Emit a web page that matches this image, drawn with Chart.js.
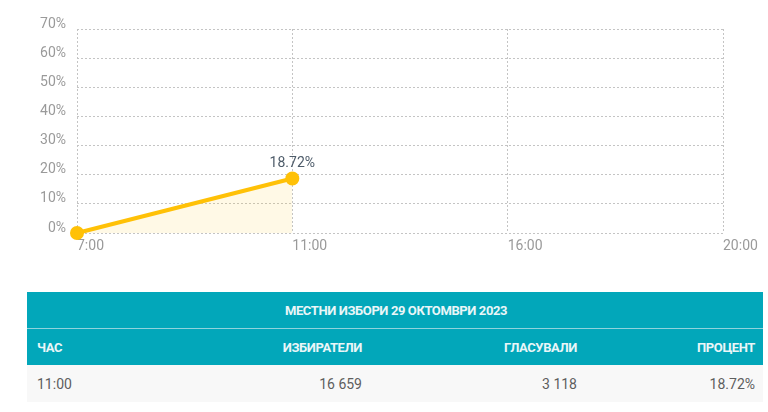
<!DOCTYPE html>
<html>
<head>
<meta charset="utf-8">
<script src="https://cdn.jsdelivr.net/npm/chart.js@4/dist/chart.umd.min.js"></script>
<style>
  html, body { margin: 0; padding: 0; background: #fff; }
  body { width: 768px; height: 412px; overflow: hidden; font-family: Roboto, sans-serif; }
  #chartBox { position: absolute; left: 0; top: 0; width: 768px; height: 265px; }
  table.turnout {
    position: absolute; left: 27px; top: 292px; width: 736px;
    border-collapse: collapse; table-layout: fixed;
  }
  .turnout th { background: #02a7ba; color: #eaf6f8; font-weight: 700; font-size: 13px; height: 36px; padding: 0 10px; letter-spacing: -0.4px; }
  .turnout tr.title th { text-align: center; border-bottom: 1px solid #8fd3dc; }
  .turnout tr.cols th { text-align: right; }
  .turnout tr.cols th:first-child { text-align: left; }
  .turnout td { background: #f8f8f8; color: #5e5e5e; font-size: 14px; height: 37px; padding: 0 10px; text-align: right; }
  .turnout td:first-child { text-align: left; }
  .turnout th:last-child, .turnout td:last-child { padding-right: 8px; }
</style>
</head>
<body>
<div id="chartBox"><canvas id="turnoutChart"></canvas></div>

<table class="turnout">
  <colgroup><col style="width:172px"><col style="width:173px"><col style="width:215px"><col style="width:176px"></colgroup>
  <tr class="title"><th colspan="4" id="tblTitle"></th></tr>
  <tr class="cols" id="tblHead"></tr>
  <tbody id="tblBody"></tbody>
</table>

<script>
// chart data
const hours = ["7:00", "11:00", "16:00", "20:00"];
const turnoutPct = [0, 18.72, null, null];
const yTicks = [0, 10, 20, 30, 40, 50, 60, 70];

// table data
const tableTitle = "МЕСТНИ ИЗБОРИ 29 ОКТОМВРИ 2023";
const tableCols = ["ЧАС", "ИЗБИРАТЕЛИ", "ГЛАСУВАЛИ", "ПРОЦЕНТ"];
const rowHours = ["11:00"];
const rowVoters = ["16 659"];
const rowVoted = ["3 118"];
const rowPct = ["18.72%"];

// ── table ──
document.getElementById("tblTitle").textContent = tableTitle;
document.getElementById("tblHead").innerHTML = tableCols.map(c => `<th>${c}</th>`).join("");
document.getElementById("tblBody").innerHTML = rowHours.map((h, i) =>
  `<tr><td>${h}</td><td>${rowVoters[i]}</td><td>${rowVoted[i]}</td><td>${rowPct[i]}</td></tr>`
).join("");

// ── value label above the last real point ──
const lastValueLabel = {
  id: "lastValueLabel",
  afterDatasetsDraw(chart) {
    const meta = chart.getDatasetMeta(0);
    const ctx = chart.ctx;
    ctx.save();
    ctx.font = "14px Roboto";
    ctx.fillStyle = "#4d5b69";
    ctx.textAlign = "center";
    ctx.textBaseline = "bottom";
    turnoutPct.forEach((v, i) => {
      if (v === null || v === 0) return;
      const pt = meta.data[i];
      ctx.fillText(v.toFixed(2) + "%", pt.x, pt.y - 8);
    });
    ctx.restore();
  }
};

// dotted grid (v4: border.dash styles the grid lines too)
const gridDots = { display: true, color: "#c4c4c4", lineWidth: 1, drawTicks: false };
const dotBorder = { display: false, dash: [2, 2] };

new Chart(document.getElementById("turnoutChart"), {
  type: "line",
  data: {
    labels: hours,
    datasets: [{
      data: turnoutPct,
      borderColor: "#ffc107",
      backgroundColor: "rgba(255, 193, 7, 0.1)",
      pointBackgroundColor: "#ffc107",
      pointBorderColor: "#ffc107",
      borderWidth: 4,
      pointRadius: 5,
      fill: "origin",
      tension: 0,
      clip: false
    }]
  },
  options: {
    responsive: true,
    maintainAspectRatio: false,
    animation: false,
    layout: { padding: { left: 0, right: 45, top: 29, bottom: 0 } },
    plugins: { legend: { display: false }, tooltip: { enabled: false } },
    scales: {
      x: {
        grid: gridDots,
        border: dotBorder,
        ticks: { color: "#9a9a9a", font: { family: "Roboto", size: 14 }, align: "start", padding: 5, maxRotation: 0, autoSkip: false },
        afterFit(scale) { scale.height = 32; }
      },
      y: {
        min: 0, max: 70,
        afterBuildTicks(scale) { scale.ticks = yTicks.map(v => ({ value: v })); },
        grid: gridDots,
        border: dotBorder,
        ticks: {
          color: "#9a9a9a", font: { family: "Roboto", size: 14 }, padding: 11, labelOffset: -5,
          callback: v => v + "%"
        },
        afterFit(scale) { scale.width = 77; }
      }
    }
  },
  plugins: [lastValueLabel]
});
</script>
</body>
</html>
